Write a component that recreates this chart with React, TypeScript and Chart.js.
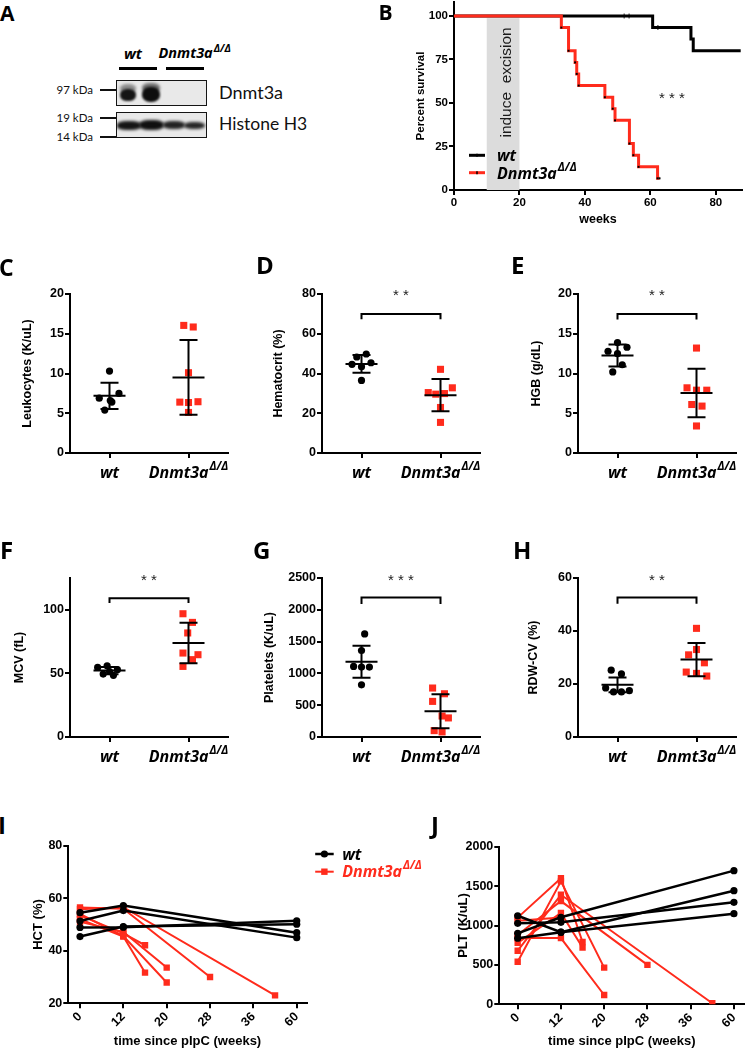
import React, { useEffect, useRef } from 'react';
import { Chart, registerables, LinearScale } from 'chart.js';

Chart.register(...registerables);

const RED = '#ff2b1c';
const BLACK = '#000000';
const AXF = '"Liberation Sans", Arial, sans-serif';
const LABF = '"Open Sans", sans-serif';
const BLOTF = 'Lato, "Open Sans", sans-serif';

Chart.defaults.font.family = AXF;
Chart.defaults.color = BLACK;

// ---------------- Panel B : survival ----------------
const survWtWeeks = [0, 60.7, 72.4, 73.1, 87.6];
const survWtPercent = [100, 93.3, 86.7, 80, 80];
const survWtCensorWeeks = [52, 53.5, 62.3];
const survWtCensorPercent = [100, 100, 93.3];
const survKoWeeks = [0, 32.8, 35, 37, 37.5, 38.1, 46.1, 48.5, 49.2, 53.6, 54.8, 56.4, 62.2, 62.8];
const survKoPercent = [100, 93.3, 80, 73.3, 66.7, 60, 53.3, 46.7, 40, 26.7, 20, 13.3, 6.7, 6.7];
const survXTicks = [0, 20, 40, 60, 80];
const survYTicks = [0, 25, 50, 75, 100];
const excisionWeeks = [10, 20];

// ---------------- Panels C-H : blood counts ----------------
const groupLabels = ['wt', 'Dnmt3a'];

const leukTicks = [0, 5, 10, 15, 20];
const leukWt = [10.3, 6.9, 6.4, 7.5, 5.4, 6.6];
const leukWtJitter = [0, -0.13, 0.03, 0.12, -0.06, 0.01];
const leukKo = [16.05, 15.85, 10.1, 6.4, 6.35, 6.45, 5.1];
const leukKoJitter = [-0.06, 0.06, 0, -0.11, 0, 0.12, 0];
const leukMeanSd = [[7.2, 1.65], [9.5, 4.7]];

const hctTicks = [0, 20, 40, 60, 80];
const hctWt = [49.8, 48.3, 44.6, 45.4, 43.4, 36.5];
const hctWtJitter = [0.06, -0.06, -0.12, 0.12, 0, 0];
const hctKo = [42.1, 32.8, 30.4, 29.6, 29.9, 22.9, 15.4];
const hctKoJitter = [0, 0.15, -0.155, -0.06, 0.05, 0, 0];
const hctMeanSd = [[44.8, 4.45], [29.1, 8.15]];

const hgbTicks = [0, 5, 10, 15, 20];
const hgbWt = [13.9, 12.8, 13.3, 12.5, 11.1, 10.2];
const hgbWtJitter = [0, -0.12, 0.12, 0, 0.06, -0.06];
const hgbKo = [13.2, 8.2, 7.9, 7.9, 6.1, 5.9, 3.4];
const hgbKoJitter = [0, -0.12, 0, 0.13, -0.06, 0.07, 0];
const hgbMeanSd = [[12.27, 1.38], [7.56, 3.05]];

const mcvTicks = [0, 50, 100];
const mcvWt = [54.7, 56, 52.9, 51.5, 49.5, 48.5];
const mcvWtJitter = [-0.15, -0.03, 0.1, 0.0, -0.08, 0.05];
const mcvKo = [96.9, 90.1, 81.8, 66, 64.7, 60.8, 55.5];
const mcvKoJitter = [-0.07, 0.05, -0.01, -0.07, 0.12, 0.05, -0.07];
const mcvMeanSd = [[52.2, 2.8], [73.9, 16]];

const pltTicks = [0, 500, 1000, 1500, 2000, 2500];
const pltWt = [1620, 1360, 1110, 1100, 1100, 820];
const pltWtJitter = [0.04, 0, -0.1, 0, 0.1, 0];
const pltKo = [770, 680, 560, 330, 300, 100, 80];
const pltKoJitter = [-0.1, 0.05, -0.1, 0.02, 0.1, -0.08, 0.02];
const pltMeanSd = [[1184, 252], [405, 268]];

const rdwTicks = [0, 20, 40, 60];
const rdwWt = [25.2, 23.8, 18.5, 17, 17, 17.5];
const rdwWtJitter = [-0.08, 0.05, -0.15, -0.05, 0.05, 0.15];
const rdwKo = [41, 33, 31, 28, 24.5, 24, 23];
const rdwKoJitter = [0, 0, -0.1, 0.1, -0.13, 0, 0.13];
const rdwMeanSd = [[19.7, 2.8], [29.2, 6.3]];

// ---------------- Panels I-J : time course ----------------
const timeTicks = [0, 12, 20, 28, 36, 60];

const hctTimeWtWeeks = [[0, 12, 60], [0, 12, 60], [0, 12, 60], [0, 12, 60]];
const hctTimeWtValues = [[54.5, 57.2, 46.9], [51.3, 55.3, 45.0], [48.9, 49.0, 51.4], [45.4, 49.2, 50.1]];
const hctTimeKoWeeks = [[0, 12, 28], [0, 12, 48], [0, 12, 16], [0, 12, 16], [0, 12, 20], [0, 12, 20]];
const hctTimeKoValues = [[56.5, 56.0, 30.0], [55.8, 56.6, 23.0], [53.5, 46.6, 42.1], [52.0, 45.4, 31.7], [51.0, 47.2, 33.6], [54.0, 45.6, 27.9]];
const hctTimeTicks = [20, 40, 60, 80];

const pltTimeWtWeeks = [[0, 12, 60], [0, 12, 60], [0, 12, 60], [0, 12, 60]];
const pltTimeWtValues = [[1124, 915, 1150], [1028, 1040, 1294], [901, 1104, 1696], [838, 915, 1442]];
const pltTimeKoWeeks = [[0, 12, 16], [0, 12, 20], [0, 12, 48], [0, 12, 28], [0, 12, 16], [0, 12, 20], [0, 12]];
const pltTimeKoValues = [[1100, 1600, 790], [540, 1560, 465], [680, 1390, 13], [880, 1310, 500], [780, 1160, 720], [840, 840, 118], [1060, 1100]];
const pltTimeTicks = [0, 500, 1000, 1500, 2000];

// ---------------- helpers ----------------
function weekToPos(w: number) {
  const t = timeTicks;
  for (let i = 0; i < t.length - 1; i++) {
    if (w <= t[i + 1]) return i + (w - t[i]) / (t[i + 1] - t[i]);
  }
  const n = t.length - 1;
  return n + (w - t[n]) / (t[n] - t[n - 1]);
}

class PiecewiseScale extends LinearScale {
  static id = 'piecewise';
  static defaults = { ticks: { callback: (v: number) => String(v) } };
  determineDataLimits() {
    const o: any = this.options;
    (this as any).min = o.posMin ?? -0.3;
    (this as any).max = o.posMax ?? 5.25;
  }
  buildTicks() {
    return timeTicks.map((v) => ({ value: v }));
  }
  getPixelForValue(v: number) {
    return super.getPixelForValue(weekToPos(v));
  }
}
Chart.register(PiecewiseScale as any);

function drawDnmt(ctx: CanvasRenderingContext2D, x: number, baseline: number, size: number, color: string, align: 'center' | 'left') {
  const mainFont = `italic 700 ${size}px ${LABF}`;
  const supSize = size * 0.72;
  const supFont = `italic 700 ${supSize}px ${LABF}`;
  ctx.save();
  ctx.font = mainFont;
  const w1 = ctx.measureText(groupLabels[1]).width;
  ctx.font = supFont;
  const w2 = ctx.measureText('Δ/Δ').width;
  const x0 = align === 'center' ? x - (w1 + w2 + 1) / 2 : x;
  ctx.fillStyle = color;
  ctx.textAlign = 'left';
  ctx.textBaseline = 'alphabetic';
  ctx.font = mainFont;
  ctx.fillText(groupLabels[1], x0, baseline);
  ctx.font = supFont;
  ctx.fillText('Δ/Δ', x0 + w1 + 1, baseline - size * 0.5);
  ctx.restore();
}

function zeroPad(s: any) {
  s.paddingLeft = 0;
  s.paddingRight = 0;
  s.paddingTop = 0;
  s.paddingBottom = 0;
}

function axisCommon() {
  return {
    grid: { display: true, drawOnChartArea: false, drawTicks: true, tickLength: 5, color: BLACK, lineWidth: 2 },
    border: { display: true, color: BLACK, width: 2 },
  };
}

const tickFont = { family: AXF, weight: 'bold' as const, size: 12.5 };

// ---------------- dot plot panels ----------------
type Sig = { bar: number; leg: number; text: string; at: number };
type DotSpec = {
  letter: string;
  left: number;
  top: number;
  bottom: number;
  yMin: number;
  yMax: number;
  ticks: number[];
  title: string;
  titlePad: number;
  wt: number[];
  wtJitter: number[];
  ko: number[];
  koJitter: number[];
  stats: number[][];
  sig: Sig | null;
};

const Y_W = 62;
const X_H = 40;
const TOP_PAD = 45;
const PLOT_W = 158;

const ROW1_TOP = 294.3;
const ROW1_BOTTOM = 453.3;
const ROW2_TOP = 578.3;
const ROW2_BOTTOM = 737.3;

const dotSpecs: DotSpec[] = [
  { letter: 'C', left: 70, top: ROW1_TOP, bottom: ROW1_BOTTOM, yMin: 0, yMax: 20, ticks: leukTicks, title: 'Leukocytes (K/uL)', titlePad: 12.5, wt: leukWt, wtJitter: leukWtJitter, ko: leukKo, koJitter: leukKoJitter, stats: leukMeanSd, sig: null },
  { letter: 'D', left: 322, top: ROW1_TOP, bottom: ROW1_BOTTOM, yMin: 0, yMax: 80, ticks: hctTicks, title: 'Hematocrit (%)', titlePad: 11, wt: hctWt, wtJitter: hctWtJitter, ko: hctKo, koJitter: hctKoJitter, stats: hctMeanSd, sig: { bar: 70, leg: 67.3, text: '* *', at: 80.5 } },
  { letter: 'E', left: 578, top: ROW1_TOP, bottom: ROW1_BOTTOM, yMin: 0, yMax: 20, ticks: hgbTicks, title: 'HGB (g/dL)', titlePad: 13, wt: hgbWt, wtJitter: hgbWtJitter, ko: hgbKo, koJitter: hgbKoJitter, stats: hgbMeanSd, sig: { bar: 17.5, leg: 16.8, text: '* *', at: 20.1 } },
  { letter: 'F', left: 70, top: ROW2_TOP, bottom: ROW2_BOTTOM, yMin: 0, yMax: 125, ticks: mcvTicks, title: 'MCV (fL)', titlePad: 4, wt: mcvWt, wtJitter: mcvWtJitter, ko: mcvKo, koJitter: mcvKoJitter, stats: mcvMeanSd, sig: { bar: 109, leg: 105.3, text: '* *', at: 125 } },
  { letter: 'G', left: 322, top: ROW2_TOP, bottom: ROW2_BOTTOM, yMin: 0, yMax: 2500, ticks: pltTicks, title: 'Platelets (K/uL)', titlePad: 2.5, wt: pltWt, wtJitter: pltWtJitter, ko: pltKo, koJitter: pltKoJitter, stats: pltMeanSd, sig: { bar: 2194, leg: 2090, text: '* * *', at: 2505 } },
  { letter: 'H', left: 578, top: ROW2_TOP, bottom: ROW2_BOTTOM, yMin: 0, yMax: 60, ticks: rdwTicks, title: 'RDW-CV (%)', titlePad: 10.5, wt: rdwWt, wtJitter: rdwWtJitter, ko: rdwKo, koJitter: rdwKoJitter, stats: rdwMeanSd, sig: { bar: 52.6, leg: 50.3, text: '* *', at: 60.2 } },
];

function dotPlugin(p: DotSpec) {
  return {
    id: 'dotExtras',
    afterDatasetsDraw(chart: any) {
      const { ctx } = chart;
      const x = chart.scales.x;
      const y = chart.scales.y;
      ctx.save();
      ctx.strokeStyle = BLACK;
      ctx.lineWidth = 2;
      ctx.lineCap = 'butt';
      p.stats.forEach(([m, sd]: number[], i: number) => {
        const cx = x.getPixelForValue(i + 1);
        const ym = y.getPixelForValue(m);
        const yt = y.getPixelForValue(m + sd);
        const yb = y.getPixelForValue(Math.max(m - sd, p.yMin));
        ctx.beginPath();
        ctx.moveTo(cx - 16, ym);
        ctx.lineTo(cx + 16, ym);
        ctx.moveTo(cx - 9, yt);
        ctx.lineTo(cx + 9, yt);
        ctx.moveTo(cx - 9, yb);
        ctx.lineTo(cx + 9, yb);
        ctx.moveTo(cx, yt);
        ctx.lineTo(cx, yb);
        ctx.stroke();
      });
      ctx.restore();
    },
    afterDraw(chart: any) {
      const { ctx } = chart;
      const x = chart.scales.x;
      const y = chart.scales.y;
      ctx.save();
      if (p.sig) {
        const x1 = x.getPixelForValue(1);
        const x2 = x.getPixelForValue(2);
        const yb = y.getPixelForValue(p.sig.bar);
        const yl = y.getPixelForValue(p.sig.leg);
        ctx.strokeStyle = BLACK;
        ctx.lineWidth = 2;
        ctx.lineJoin = 'miter';
        ctx.beginPath();
        ctx.moveTo(x1, yl);
        ctx.lineTo(x1, yb);
        ctx.lineTo(x2, yb);
        ctx.lineTo(x2, yl);
        ctx.stroke();
        ctx.fillStyle = '#222';
        ctx.font = `15px ${AXF}`;
        ctx.textAlign = 'center';
        ctx.textBaseline = 'middle';
        ctx.fillText(p.sig.text, (x1 + x2) / 2, y.getPixelForValue(p.sig.at) + 3);
      }
      const by = x.top + 25;
      ctx.fillStyle = BLACK;
      ctx.font = `italic 700 16px ${LABF}`;
      ctx.textAlign = 'center';
      ctx.textBaseline = 'alphabetic';
      ctx.fillText(groupLabels[0], x.getPixelForValue(1), by);
      drawDnmt(ctx, x.getPixelForValue(2), by, 16, BLACK, 'center');
      ctx.restore();
    },
  };
}

function makeDotConfig(p: DotSpec): any {
  return {
    type: 'scatter',
    data: {
      datasets: [
        {
          data: p.ko.map((v, i) => ({ x: 2 + p.koJitter[i], y: v })),
          pointStyle: 'rect',
          pointRadius: 5,
          pointBackgroundColor: RED,
          pointBorderWidth: 0,
        },
        {
          data: p.wt.map((v, i) => ({ x: 1 + p.wtJitter[i], y: v })),
          pointStyle: 'circle',
          pointRadius: 3.6,
          pointBackgroundColor: BLACK,
          pointBorderWidth: 0,
        },
      ],
    },
    options: {
      animation: false,
      responsive: false,
      events: [],
      layout: { padding: { top: TOP_PAD, right: 12, bottom: 0, left: 0 }, autoPadding: false },
      plugins: { legend: { display: false }, tooltip: { enabled: false } },
      scales: {
        x: {
          type: 'linear',
          bounds: 'data',
          min: 0.5,
          max: 2.5,
          ...axisCommon(),
          ticks: { display: false },
          afterBuildTicks: (s: any) => {
            s.ticks = [{ value: 1 }, { value: 2 }];
          },
          afterFit: (s: any) => {
            s.height = X_H;
            zeroPad(s);
          },
        },
        y: {
          type: 'linear',
          bounds: 'data',
          min: p.yMin,
          max: p.yMax,
          ...axisCommon(),
          ticks: { font: tickFont, color: BLACK, padding: 1, callback: (v: number) => String(v) },
          afterBuildTicks: (s: any) => {
            s.ticks = p.ticks.map((v) => ({ value: v }));
          },
          title: { display: true, text: p.title, color: BLACK, font: { family: AXF, weight: 'bold', size: 12.5 }, padding: { top: p.titlePad, bottom: 0 } },
          afterFit: (s: any) => {
            s.width = Y_W;
            zeroPad(s);
          },
        },
      },
    },
    plugins: [dotPlugin(p)],
  };
}

// ---------------- survival panel ----------------
const survPlugin = {
  id: 'survExtras',
  beforeDatasetsDraw(chart: any) {
    const { ctx } = chart;
    const x = chart.scales.x;
    const y = chart.scales.y;
    const x0 = x.getPixelForValue(excisionWeeks[0]);
    const x1 = x.getPixelForValue(excisionWeeks[1]);
    const yTop = y.getPixelForValue(98.7);
    const yBot = y.getPixelForValue(0);
    ctx.save();
    ctx.fillStyle = '#dcdcdc';
    ctx.fillRect(x0, yTop, x1 - x0, yBot - yTop);
    ctx.translate(x.getPixelForValue(16.2), y.getPixelForValue(61.8));
    ctx.rotate(-Math.PI / 2);
    ctx.font = `15.5px ${AXF}`;
    ctx.fillStyle = '#1a1a1a';
    ctx.textAlign = 'center';
    ctx.textBaseline = 'middle';
    ctx.fillText('induce  excision', 0, 0);
    ctx.restore();
  },
  afterDraw(chart: any) {
    const { ctx, chartArea } = chart;
    const x = chart.scales.x;
    const y = chart.scales.y;
    ctx.save();
    ctx.fillStyle = '#222';
    ctx.font = `15px ${AXF}`;
    ctx.textAlign = 'center';
    ctx.textBaseline = 'middle';
    ctx.fillText('* * *', x.getPixelForValue(66.6), y.getPixelForValue(54) + 3);
    const L = chartArea.left;
    const rows = [
      { c: BLACK, y: 155.3 },
      { c: RED, y: 172.7 },
    ];
    rows.forEach((r, i) => {
      ctx.strokeStyle = r.c;
      ctx.lineWidth = 3;
      ctx.beginPath();
      ctx.moveTo(L + 15, r.y);
      ctx.lineTo(L + 31, r.y);
      ctx.stroke();
      ctx.strokeStyle = BLACK;
      ctx.lineWidth = 1.5;
      ctx.beginPath();
      ctx.moveTo(L + 23, r.y - 1.5);
      ctx.lineTo(L + 23, r.y + 1.5);
      ctx.stroke();
      ctx.fillStyle = BLACK;
      if (i === 0) {
        ctx.font = `italic 700 16px ${LABF}`;
        ctx.textAlign = 'left';
        ctx.textBaseline = 'alphabetic';
        ctx.fillText(groupLabels[0], L + 43, r.y + 6);
      } else {
        drawDnmt(ctx, L + 43, r.y + 6, 16, BLACK, 'left');
      }
    });
    ctx.restore();
  },
};

function makeSurvConfig(): any {
  return {
    type: 'scatter',
    data: {
      datasets: [
        {
          data: survKoWeeks.map((w, i) => ({ x: w, y: survKoPercent[i] })),
          showLine: true,
          stepped: 'before',
          borderColor: RED,
          borderWidth: 3,
          borderJoinStyle: 'miter',
          pointStyle: 'rect',
          pointRadius: (c: any) => (c.dataIndex === 0 ? 0 : 1.4),
          pointBackgroundColor: BLACK,
          pointBorderWidth: 0,
        },
        {
          data: survWtWeeks.map((w, i) => ({ x: w, y: survWtPercent[i] })),
          showLine: true,
          stepped: 'before',
          borderColor: BLACK,
          borderWidth: 3,
          borderJoinStyle: 'miter',
          pointRadius: 0,
        },
        {
          data: survWtCensorWeeks.map((w, i) => ({ x: w, y: survWtCensorPercent[i] })),
          pointStyle: 'line',
          pointRotation: 90,
          pointRadius: 2.5,
          pointBorderColor: '#444',
          pointBorderWidth: 1.2,
        },
      ],
    },
    options: {
      animation: false,
      responsive: false,
      events: [],
      layout: { padding: { top: 2, right: 3, bottom: 0, left: 0 }, autoPadding: false },
      plugins: { legend: { display: false }, tooltip: { enabled: false } },
      scales: {
        x: {
          type: 'linear',
          bounds: 'data',
          min: 0,
          max: 88,
          ...axisCommon(),
          ticks: { font: { family: AXF, weight: 'bold', size: 11.5 }, color: BLACK, padding: 1, callback: (v: number) => String(v) },
          afterBuildTicks: (s: any) => {
            s.ticks = survXTicks.map((v) => ({ value: v }));
          },
          title: { display: true, text: 'weeks', color: BLACK, font: { family: AXF, weight: 'bold', size: 12.5 }, padding: { top: 0, bottom: 3 } },
          afterFit: (s: any) => {
            s.height = 40;
            zeroPad(s);
          },
        },
        y: {
          type: 'linear',
          bounds: 'data',
          min: 0,
          max: 108,
          ...axisCommon(),
          ticks: { font: { family: AXF, weight: 'bold', size: 11.5 }, color: BLACK, padding: 1, callback: (v: number) => String(v) },
          afterBuildTicks: (s: any) => {
            s.ticks = survYTicks.map((v) => ({ value: v }));
          },
          title: { display: true, text: 'Percent survival', color: BLACK, font: { family: AXF, weight: 'bold', size: 11.5 }, padding: { top: 22, bottom: 0 } },
          afterFit: (s: any) => {
            s.width = 62;
            zeroPad(s);
          },
        },
      },
    },
    plugins: [survPlugin],
  };
}

// ---------------- time course panels ----------------
type TimeSpec = {
  wtWeeks: number[][];
  wtValues: number[][];
  koWeeks: number[][];
  koValues: number[][];
  yMin: number;
  yMax: number;
  yTicks: number[];
  title: string;
  titlePad: number;
  posMin: number;
  posMax: number;
  padTop: number;
  padRight: number;
  yW: number;
  xH: number;
  legend: boolean;
};

function timePlugin(t: TimeSpec) {
  return {
    id: 'timeExtras',
    afterDraw(chart: any) {
      if (!t.legend) return;
      const { ctx, chartArea } = chart;
      const R = chartArea.right;
      const top = chartArea.top;
      ctx.save();
      const rows = [
        { c: BLACK, y: top + 8.3, sq: false },
        { c: RED, y: top + 26, sq: true },
      ];
      rows.forEach((r, i) => {
        ctx.strokeStyle = r.c;
        ctx.lineWidth = i === 0 ? 2.5 : 2;
        ctx.beginPath();
        ctx.moveTo(R + 8.5, r.y);
        ctx.lineTo(R + 27, r.y);
        ctx.stroke();
        ctx.fillStyle = r.c;
        if (r.sq) {
          ctx.fillRect(R + 17.7 - 3.2, r.y - 3.2, 6.4, 6.4);
        } else {
          ctx.beginPath();
          ctx.arc(R + 17.7, r.y, 3.6, 0, Math.PI * 2);
          ctx.fill();
        }
        ctx.fillStyle = r.c;
        if (i === 0) {
          ctx.font = `italic 700 16px ${LABF}`;
          ctx.textAlign = 'left';
          ctx.textBaseline = 'alphabetic';
          ctx.fillText(groupLabels[0], R + 35.5, r.y + 5.5);
        } else {
          drawDnmt(ctx, R + 35.5, r.y + 5.5, 16, RED, 'left');
        }
      });
      ctx.restore();
    },
  };
}

function makeTimeConfig(t: TimeSpec): any {
  const wtSets = t.wtValues.map((vals, k) => ({
    data: vals.map((v, i) => ({ x: t.wtWeeks[k][i], y: v })),
    showLine: true,
    borderColor: BLACK,
    borderWidth: 2.5,
    pointStyle: 'circle',
    pointRadius: 3.6,
    pointBackgroundColor: BLACK,
    pointBorderWidth: 0,
  }));
  const koSets = t.koValues.map((vals, k) => ({
    data: vals.map((v, i) => ({ x: t.koWeeks[k][i], y: v })),
    showLine: true,
    borderColor: RED,
    borderWidth: 2,
    pointStyle: 'rect',
    pointRadius: 4.5,
    pointBackgroundColor: RED,
    pointBorderWidth: 0,
  }));
  return {
    type: 'scatter',
    data: { datasets: [...wtSets, ...koSets] },
    options: {
      animation: false,
      responsive: false,
      events: [],
      layout: { padding: { top: t.padTop, right: t.padRight, bottom: 0, left: 0 }, autoPadding: false },
      plugins: { legend: { display: false }, tooltip: { enabled: false } },
      scales: {
        x: {
          type: 'piecewise',
          posMin: t.posMin,
          posMax: t.posMax,
          ...axisCommon(),
          ticks: { font: tickFont, color: BLACK, padding: 1, autoSkip: false, minRotation: 45, maxRotation: 45, callback: (v: number) => String(v) },
          title: { display: true, text: 'time since pIpC (weeks)', color: BLACK, font: { family: AXF, weight: 'bold', size: 13 }, padding: { top: 0, bottom: 0.5 } },
          afterFit: (s: any) => {
            s.height = t.xH;
            zeroPad(s);
          },
        },
        y: {
          type: 'linear',
          bounds: 'data',
          min: t.yMin,
          max: t.yMax,
          ...axisCommon(),
          ticks: { font: tickFont, color: BLACK, padding: 1, callback: (v: number) => String(v) },
          afterBuildTicks: (s: any) => {
            s.ticks = t.yTicks.map((v) => ({ value: v }));
          },
          title: { display: true, text: t.title, color: BLACK, font: { family: AXF, weight: 'bold', size: 13 }, padding: { top: t.titlePad, bottom: 0 } },
          afterFit: (s: any) => {
            s.width = t.yW;
            zeroPad(s);
          },
        },
      },
    },
    plugins: [timePlugin(t)],
  };
}

const hctTimeSpec: TimeSpec = {
  wtWeeks: hctTimeWtWeeks,
  wtValues: hctTimeWtValues,
  koWeeks: hctTimeKoWeeks,
  koValues: hctTimeKoValues,
  yMin: 20,
  yMax: 80,
  yTicks: hctTimeTicks,
  title: 'HCT (%)',
  titlePad: 15,
  posMin: -0.27,
  posMax: 5.23,
  padTop: 45.7,
  padRight: 133.3,
  yW: 52.3,
  xH: 46.7,
  legend: true,
};

const pltTimeSpec: TimeSpec = {
  wtWeeks: pltTimeWtWeeks,
  wtValues: pltTimeWtValues,
  koWeeks: pltTimeKoWeeks,
  koValues: pltTimeKoValues,
  yMin: 0,
  yMax: 2000,
  yTicks: pltTimeTicks,
  title: 'PLT (K/uL)',
  titlePad: 8.5,
  posMin: -0.425,
  posMax: 5.24,
  padTop: 46.7,
  padRight: 0.7,
  yW: 52.3,
  xH: 45.7,
  legend: false,
};

// ---------------- React ----------------
function ChartCanvas(props: { left: number; top: number; width: number; height: number; build: () => any }) {
  const ref = useRef<HTMLCanvasElement | null>(null);
  useEffect(() => {
    if (!ref.current) return;
    const chart = new Chart(ref.current, props.build());
    return () => chart.destroy();
  }, []);
  const { left, top, width, height } = props;
  return <canvas ref={ref} width={width} height={height} style={{ position: 'absolute', left, top, width, height }} />;
}

const letterStyle = (size: number): React.CSSProperties => ({
  position: 'absolute',
  fontFamily: LABF,
  fontWeight: 700,
  fontSize: size,
  lineHeight: 1,
  color: BLACK,
});

const panelLetters: [string, number, number, number][] = [
  ['A', 0, 3, 21],
  ['B', 378.5, 1.5, 21],
  ['C', -1, 256, 23],
  ['D', 256, 252.5, 24],
  ['E', 511, 252.5, 24],
  ['F', 0, 537.5, 24],
  ['G', 253, 537.5, 24],
  ['H', 513, 537.5, 24],
  ['I', -2, 812.5, 24],
  ['J', 431, 812.5, 24],
];

function Blob(props: { l: number; t: number; w: number; h: number; c: string; b?: number; r?: string }) {
  return (
    <div
      style={{
        position: 'absolute',
        left: props.l,
        top: props.t,
        width: props.w,
        height: props.h,
        background: props.c,
        borderRadius: props.r ?? '45%',
        filter: `blur(${props.b ?? 1.3}px)`,
      }}
    />
  );
}

function Blot() {
  const kda = (text: string, top: number) => (
    <div style={{ position: 'absolute', left: 30, top, width: 63, textAlign: 'right', fontFamily: BLOTF, fontSize: 11.5, lineHeight: 1, color: '#111' }}>{text}</div>
  );
  const tick = (y: number) => <div style={{ position: 'absolute', left: 100, top: y - 1, width: 16, height: 2, background: '#111' }} />;
  const boxStyle = (top: number): React.CSSProperties => ({
    position: 'absolute',
    left: 116,
    top,
    width: 91,
    height: 26,
    boxSizing: 'border-box',
    border: '1.5px solid #151515',
    background: '#e9e9e9',
    overflow: 'hidden',
  });
  return (
    <>
      <div style={{ position: 'absolute', left: 124, top: 45.5, fontFamily: LABF, fontStyle: 'italic', fontWeight: 700, fontSize: 15, lineHeight: 1, color: BLACK }}>wt</div>
      <div style={{ position: 'absolute', left: 158.5, top: 45.5, fontFamily: LABF, fontStyle: 'italic', fontWeight: 700, fontSize: 14.5, lineHeight: 1, color: BLACK, whiteSpace: 'nowrap' }}>
        Dnmt3a<span style={{ fontSize: '0.72em', position: 'relative', top: '-0.55em', marginLeft: 1 }}>Δ/Δ</span>
      </div>
      <div style={{ position: 'absolute', left: 119, top: 66.5, width: 38, height: 3.5, background: BLACK }} />
      <div style={{ position: 'absolute', left: 166, top: 66.5, width: 38, height: 3.5, background: BLACK }} />
      <div style={boxStyle(80)}>
        <Blob l={3} t={3} w={16} h={9} c="#8a8a8a" b={1.8} />
        <Blob l={3} t={8} w={16} h={12} c="#151515" />
        <Blob l={25} t={2} w={18} h={10} c="#6a6a6a" b={1.8} />
        <Blob l={25} t={6} w={18} h={15} c="#0e0e0e" />
      </div>
      <div style={boxStyle(112)}>
        <Blob l={0} t={7.5} w={24} h={9} c="#151515" b={1.4} r="40%" />
        <Blob l={22} t={7} w={25} h={10} c="#101010" b={1.4} r="40%" />
        <Blob l={46} t={8} w={22} h={8} c="#222" b={1.4} r="40%" />
        <Blob l={67} t={8.5} w={21} h={7.5} c="#262626" b={1.4} r="40%" />
      </div>
      {kda('97 kDa', 83.6)}
      {kda('19 kDa', 111.9)}
      {kda('14 kDa', 130.6)}
      {tick(89.5)}
      {tick(118)}
      {tick(137)}
      <div style={{ position: 'absolute', left: 219, top: 83.2, fontFamily: BLOTF, fontSize: 18, lineHeight: 1, color: '#111' }}>Dnmt3a</div>
      <div style={{ position: 'absolute', left: 219, top: 115.4, fontFamily: BLOTF, fontSize: 17.5, lineHeight: 1, color: '#111', whiteSpace: 'nowrap' }}>Histone H3</div>
    </>
  );
}

export default function App() {
  return (
    <div style={{ position: 'absolute', left: 0, top: 0, width: 745, height: 1050, overflow: 'hidden', background: '#ffffff' }}>
      <Blot />
      <ChartCanvas left={392} top={0} width={353} height={230} build={makeSurvConfig} />
      {dotSpecs.map((p) => (
        <ChartCanvas
          key={p.letter}
          left={p.left - Y_W}
          top={p.top - TOP_PAD}
          width={Y_W + PLOT_W + 12}
          height={TOP_PAD + (p.bottom - p.top) + X_H}
          build={() => makeDotConfig(p)}
        />
      ))}
      <ChartCanvas left={16} top={800} width={424} height={250} build={() => makeTimeConfig(hctTimeSpec)} />
      <ChartCanvas left={447} top={800} width={298} height={250} build={() => makeTimeConfig(pltTimeSpec)} />
      {panelLetters.map(([t, l, tp, s]) => (
        <div key={t} style={{ ...letterStyle(s), left: l, top: tp }}>
          {t}
        </div>
      ))}
    </div>
  );
}
